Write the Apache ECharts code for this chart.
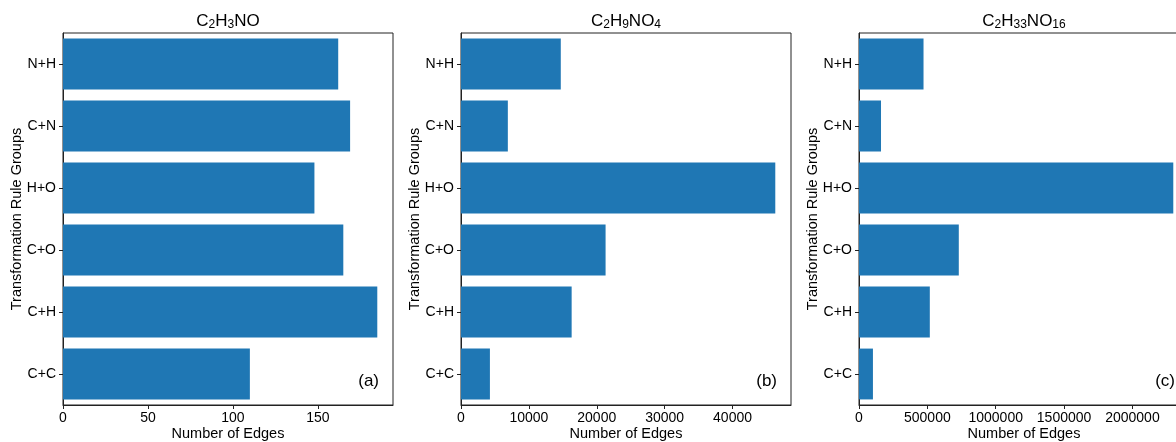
<!DOCTYPE html>
<html>
<head>
<meta charset="utf-8">
<script src="https://cdn.jsdelivr.net/npm/echarts@6/dist/echarts.min.js"></script>
<style>
  html, body { margin: 0; padding: 0; overflow: hidden; background: #fff; }
  #main { width: 1200px; height: 442px; }
</style>
</head>
<body>
<div id="main"></div>
<script>
// rule groups, top to bottom
var groups = ['N+H', 'C+N', 'H+O', 'C+O', 'C+H', 'C+C'];
// number of edges per molecule
var edgesA = [162, 169, 148, 165, 185, 110];
var edgesB = [14700, 6900, 46300, 21300, 16300, 4260];
var edgesC = [472000, 161000, 2299000, 730000, 518000, 102000];
var tickSteps = [50, 10000, 500000];
var panelTags = ['(a)', '(b)', '(c)'];

var font = 'Liberation Sans, Arial, Helvetica, sans-serif';
var barColor = '#1f77b4';
var lineColor = '#222';

var myChart = echarts.init(document.getElementById('main'));

var lefts = [63, 461, 859];
var width = 330;
var top0 = 33, h = 372;

function sub(a) {
    // builds rich title text like C{2}H{3}NO
    return a.map(function (p) { return typeof p === 'number' ? '{s|' + p + '}' : '{n|' + p + '}'; }).join('');
}
var titles = [
    sub(['C', 2, 'H', 3, 'NO']),
    sub(['C', 2, 'H', 9, 'NO', 4]),
    sub(['C', 2, 'H', 33, 'NO', 16])
];

var grids = [], xAxes = [], yAxes = [], series = [], titleArr = [], graphics = [];
var datas = [edgesA, edgesB, edgesC];

for (var i = 0; i < 3; i++) {
    grids.push({
        left: lefts[i], top: top0, width: width, height: h,
        outerBoundsMode: 'none', containLabel: false,
        show: true, borderColor: lineColor, borderWidth: 1, backgroundColor: 'transparent'
    });
    xAxes.push({
        type: 'value', gridIndex: i, min: 0, interval: tickSteps[i],
        max: function (v) { return v.max * 1.05; },
        name: 'Number of Edges', nameLocation: 'middle', nameGap: 21, nameMoveOverlap: false,
        nameTextStyle: { fontFamily: font, fontSize: 14.5, color: '#000' },
        axisLine: { show: true, lineStyle: { color: lineColor } },
        axisTick: { show: true, length: 4, lineStyle: { color: lineColor } },
        axisLabel: {
            fontFamily: font, fontSize: 14, color: '#000', margin: 6, showMaxLabel: false,
            formatter: function (v) { return String(v); }
        },
        splitLine: { show: false }
    });
    yAxes.push({
        type: 'category', gridIndex: i, data: groups, inverse: true,
        name: 'Transformation Rule Groups', nameLocation: 'middle', nameGap: 39, nameMoveOverlap: false,
        nameTextStyle: { fontFamily: font, fontSize: 14.5, color: '#000' },
        axisLine: { show: true, lineStyle: { color: lineColor } },
        axisTick: { show: true, alignWithLabel: true, length: 4, lineStyle: { color: lineColor } },
        axisLabel: { fontFamily: font, fontSize: 14, color: '#000', margin: 7 }
    });
    series.push({
        type: 'bar', xAxisIndex: i, yAxisIndex: i,
        data: datas[i], barCategoryGap: '18%',
        itemStyle: { color: barColor }
    });
    titleArr.push({
        text: titles[i],
        left: lefts[i] + width / 2, top: 12, textAlign: 'center', padding: 0,
        textStyle: {
            fontWeight: 'normal',
            rich: {
                n: { fontFamily: font, fontSize: 17, fontWeight: 'normal', color: '#000' },
                s: { fontFamily: font, fontSize: 12, fontWeight: 'normal', color: '#000', padding: [7, 0, 0, 0] }
            }
        }
    });
    graphics.push({
        type: 'text', right: 1200 - (lefts[i] + width - 14), top: 373,
        style: { text: panelTags[i], font: '17px ' + font, fill: '#000' }
    });
}

myChart.setOption({
    animation: false,
    title: titleArr,
    grid: grids,
    xAxis: xAxes,
    yAxis: yAxes,
    series: series,
    graphic: graphics
});
</script>
</body>
</html>
